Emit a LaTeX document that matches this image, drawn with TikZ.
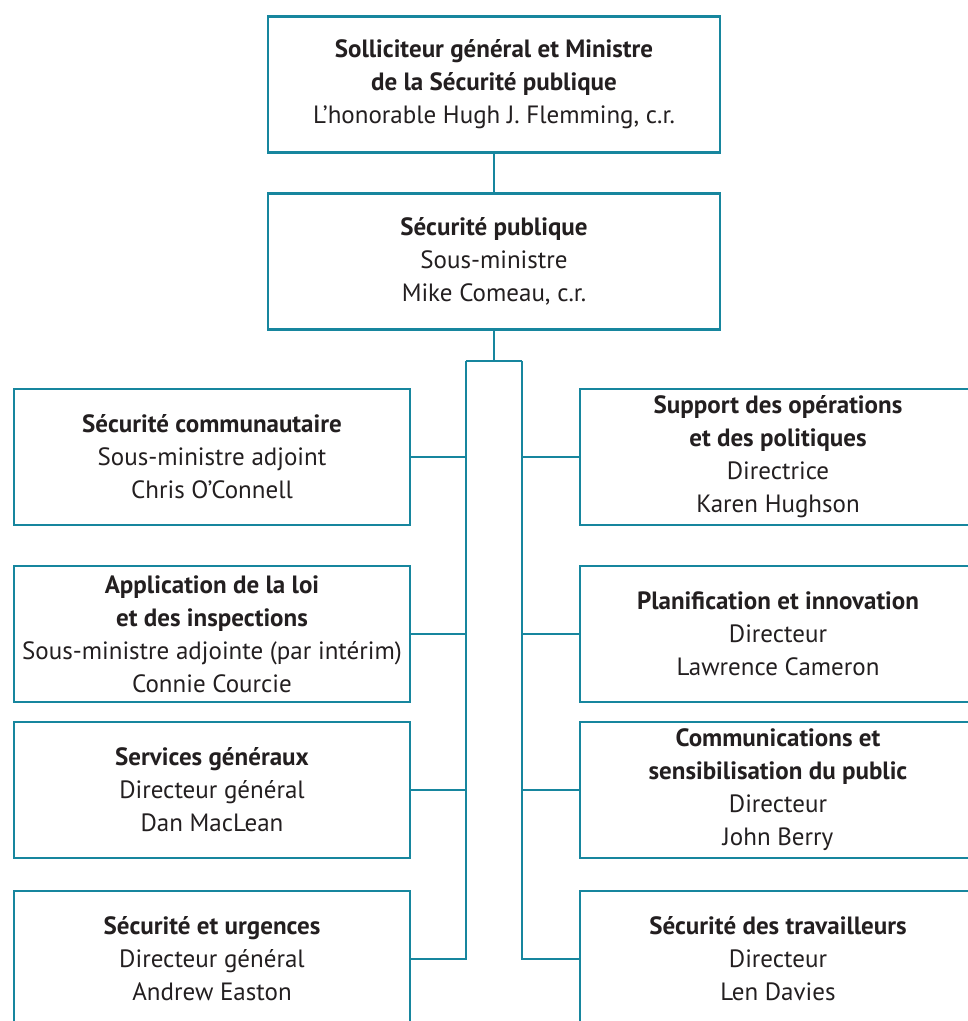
\documentclass[tikz,border=0pt]{standalone}
\usepackage{fontspec}
\setmainfont{PT Sans}
\definecolor{teal}{HTML}{17869E}
\definecolor{ink}{HTML}{231F20}
\begin{document}
\begin{tikzpicture}[x=1pt,y=-1pt,
  box/.style={draw=teal, line width=2.6pt, fill=white, text=ink, align=center,
    minimum height=136pt, inner sep=0pt, font=\fontsize{25}{33}\selectfont},
  sbox/.style={box, minimum width=396pt},
  wbox/.style={box, minimum width=452pt},
  link/.style={draw=teal, line width=2.6pt}]
\useasboundingbox (0,0) rectangle (968,1021);
\clip (0,0) rectangle (968,1021);
\node[wbox] (top) at (494,84.5) {\textbf{Solliciteur général et Ministre}\\\textbf{de la Sécurité publique}\\L’honorable Hugh J. Flemming, c.r.};
\node[wbox] (mid) at (494,261.5) {\textbf{Sécurité publique}\\Sous-ministre\\Mike Comeau, c.r.};
\node[sbox] (l1) at (212,457) {\textbf{Sécurité communautaire}\\Sous-ministre adjoint\\Chris O’Connell};
\node[sbox] (l2) at (212,634) {\textbf{Application de la loi}\\\textbf{et des inspections}\\Sous-ministre adjointe (par intérim)\\Connie Courcie};
\node[sbox] (l3) at (212,790) {\textbf{Services généraux}\\Directeur général\\Dan MacLean};
\node[sbox] (l4) at (212,959) {\textbf{Sécurité et urgences}\\Directeur général\\Andrew Easton};
\node[sbox] (r1) at (778,457) {\textbf{Support des opérations}\\\textbf{et des politiques}\\Directrice\\Karen Hughson};
\node[sbox] (r2) at (778,634) {\textbf{Planification et innovation}\\Directeur\\Lawrence Cameron};
\node[sbox] (r3) at (778,790) {\textbf{Communications et}\\\textbf{sensibilisation du public}\\Directeur\\John Berry};
\node[sbox] (r4) at (778,959) {\textbf{Sécurité des travailleurs}\\Directeur\\Len Davies};
\coordinate (jl) at (466,361);
\coordinate (jr) at (522,361);
\coordinate (bl) at (466,959);
\coordinate (br) at (522,959);
\draw[link] (top.south) -- (mid.north);
\draw[link] (mid.south) -- (mid.south |- jl);
\draw[link] (jl) -- (jr);
\draw[link] (jl) -- (bl) -- (l4.east);
\draw[link] (jr) -- (br) -- (r4.west);
\draw[link] (l1.east) -- (l1.east -| jl);
\draw[link] (l2.east) -- (l2.east -| jl);
\draw[link] (l3.east) -- (l3.east -| jl);
\draw[link] (r1.west) -- (r1.west -| jr);
\draw[link] (r2.west) -- (r2.west -| jr);
\draw[link] (r3.west) -- (r3.west -| jr);
\end{tikzpicture}
\end{document}
